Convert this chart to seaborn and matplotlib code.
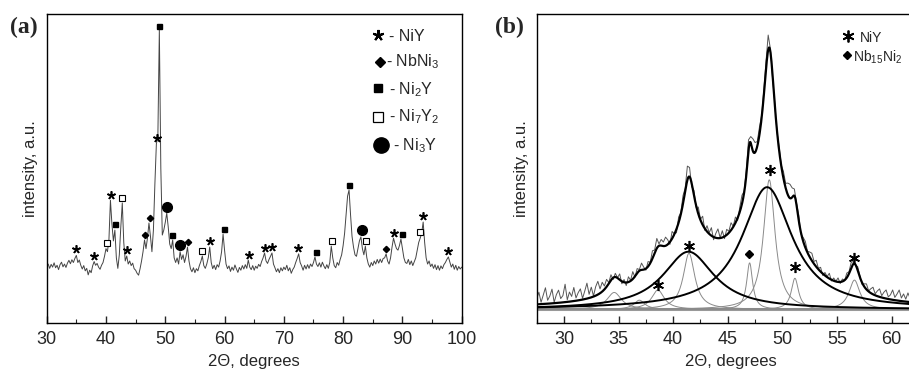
import numpy as np
import pandas as pd
import seaborn as sns
import matplotlib
matplotlib.use('Agg')
import matplotlib.pyplot as plt
from matplotlib.ticker import MultipleLocator

# ---------------- panel (a): XRD pattern, 30-100 deg, step 0.25 ----------------
two_theta_a = np.linspace(30, 100, 281)
intensity_a = [
    18.2, 19.0, 17.6, 18.9, 18.0, 19.4, 17.8, 18.6, 17.2, 18.8, 19.6, 18.1, 19.0, 17.9, 19.3, 20.2, 19.1, 20.4, 19.5, 20.8,
    21.8, 19.5, 20.3, 18.6, 17.4, 18.5, 16.8, 17.6, 15.5, 17.0, 16.2, 18.4, 19.8, 18.6, 19.2, 18.0, 17.3, 18.6, 19.5, 21.5,
    24.0, 23.0, 27.0, 39.7, 32.0, 26.5, 30.0, 21.0, 17.6, 22.0, 31.0, 38.8, 26.0, 20.0, 21.6, 19.0, 20.0, 18.5, 19.3, 17.5,
    17.0, 16.0, 15.4, 17.5, 20.0, 23.0, 26.8, 24.0, 27.5, 32.3, 28.0, 23.0, 30.0, 45.0, 58.0, 60.0, 94.8, 50.0, 28.4, 30.0,
    32.5, 35.5, 31.0, 25.5, 24.0, 26.8, 21.0, 19.5, 21.0, 19.0, 23.0, 20.5, 22.0, 19.5, 21.5, 24.5, 20.0, 17.5, 16.5, 17.8,
    16.2, 17.5, 16.8, 18.5, 19.8, 21.6, 18.5, 17.6, 19.0, 21.0, 24.5, 19.5, 17.5, 18.6, 17.2, 18.8, 18.0, 20.0, 23.0, 28.7,
    23.5, 19.0, 17.5, 18.4, 16.6, 18.0, 17.0, 18.7, 17.4, 16.3, 17.9, 17.0, 18.5, 17.4, 18.8, 17.6, 20.3, 18.0, 17.2, 18.5,
    17.0, 18.3, 17.6, 18.9, 18.2, 19.8, 21.0, 22.6, 20.0, 19.2, 20.5, 21.5, 22.6, 19.0, 17.8, 16.5, 17.5, 16.2, 17.8, 16.8,
    18.0, 17.2, 18.6, 16.8, 17.8, 16.0, 17.2, 18.0, 19.5, 20.8, 22.3, 19.5, 18.4, 17.0, 18.6, 17.4, 18.8, 17.6, 19.0, 18.2,
    19.5, 21.3, 19.0, 18.2, 19.4, 18.0, 19.6, 18.4, 17.5, 18.8, 17.6, 19.5, 24.8, 21.0, 18.5, 17.8, 19.5, 18.6, 20.5, 22.0,
    25.0, 29.0, 35.0, 41.0, 43.0, 35.0, 28.0, 24.5, 22.0, 21.5, 24.0, 26.5, 27.8, 24.0, 22.0, 24.8, 21.0, 19.0, 18.0, 19.5,
    18.5, 20.0, 19.0, 20.5, 19.3, 20.6, 19.5, 20.8, 21.0, 22.3, 20.0, 19.0, 21.0, 24.5, 27.4, 25.5, 24.0, 23.5, 25.0, 27.1,
    24.0, 21.0, 19.5, 19.2, 20.5, 18.8, 20.0, 18.5, 19.8, 21.0, 23.5, 26.0, 27.4, 29.0, 32.6, 26.0, 21.0, 19.0, 20.0, 18.2,
    19.0, 17.6, 18.8, 17.2, 18.5, 17.0, 18.4, 17.5, 18.8, 19.5, 20.5, 21.3, 19.6, 18.0, 19.0, 17.3, 18.6, 17.0, 18.2, 17.4, 18.0,
]

# phase marks on panel (a)
niy_x = [35.0, 38.0, 40.85, 43.5, 48.55, 57.5, 64.06, 66.8, 67.94, 72.43, 88.57, 93.45, 97.7]
niy_y = [23.9, 21.6, 41.4, 23.5, 59.8, 26.4, 22.0, 24.3, 24.5, 24.2, 29.0, 34.7, 23.2]
nbni3_x = [46.5, 47.36, 53.8, 87.2]
nbni3_y = [28.4, 34.0, 26.1, 24.0]
ni2y_x = [41.57, 49.0, 51.13, 59.9, 75.36, 80.93, 89.9]
ni2y_y = [32.0, 96.2, 28.4, 30.3, 22.9, 44.7, 28.8]
ni7y2_x = [40.1, 42.7, 56.24, 78.1, 83.8, 93.0]
ni7y2_y = [25.9, 40.5, 23.3, 26.6, 26.6, 29.4]
ni3y_x = [50.3, 52.5, 83.1]
ni3y_y = [37.4, 25.2, 30.0]

# ---------------- panel (b): peak fit, 27.5-62 deg ----------------
peak_center = [34.6, 36.9, 38.6, 41.45, 47.0, 48.8, 51.15, 56.6, 41.4, 48.6]
peak_height = [5.5, 3.0, 6.3, 18.2, 15.1, 42.0, 10.1, 9.5, 18.7, 39.6]
peak_hwhm = [0.8, 0.6, 0.7, 0.64, 0.33, 0.64, 0.4, 0.6, 2.85, 2.8]
peak_broad = [False] * 8 + [True, True]
baseline_b = 4.3

# measured pattern, step 0.2 deg, given as deviation from the fitted envelope
two_theta_b = np.linspace(27.5, 61.9, 173)
residual_b = [
    1.8, 3.9, 0.6, 2.9, 5.2, 1.1, 2.4, 4.6, 0.3, 2.7,
    4.1, 1.3, 2.2, 5.8, 0.7, 3.1, 1.6, 4.4, 0.9, 2.5,
    3.6, 0.4, 2.6, 5.0, 1.2, 3.3, 0.2, 2.9, 4.3, 1.4,
    3.0, 1.1, 2.4, 0.3, 1.8, -0.6, 1.2, 0.1, 1.9, -0.8,
    0.9, -1.0, 1.7, 0.2, 2.4, -0.3, 1.5, 0.4, 2.2, 0.8,
    -0.5, 1.6, 0.3, 2.5, 1.0, 3.2, 0.6, 2.0, 1.3, 2.8,
    1.5, -0.8, 2.3, 0.2, -1.2, 1.8, 0.5, 2.6, 1.0, 4.5,
    3.0, -1.0, 1.5, -0.5, 2.2, 0.3, 2.8, -0.6, 1.9, 0.4,
    2.6, -0.9, 1.4, 3.0, 0.1, 2.2, -0.7, 1.8, 0.5, 2.4,
    0.2, 1.9, -0.8, 1.5, 2.8, 0.4, 1.6, 3.5, 2.0, 4.0,
    3.2, 1.5, 2.4, 0.8, 1.6, 2.5, 4.8, 1.0, -1.2, 0.6,
    -0.4, 1.2, 0.3, 2.2, 1.5, 3.8, 4.5, 3.0, 2.2, 0.6,
    1.8, -0.5, 1.2, 2.0, 0.4, 1.6, 2.4, 0.8, 2.1, 0.3,
    1.4, -0.6, 1.0, 0.2, 1.7, -0.4, 0.9, 0.1, 1.3, -0.5,
    0.8, -0.2, 1.5, 0.6, 1.9, 0.8, -0.3, 1.2, 0.4, -0.6,
    0.9, 1.8, 0.2, 1.4, 2.3, 0.5, 1.7, 2.6, 0.6, 1.9,
    2.8, 0.7, 1.5, 3.2, 0.9, 2.1, 3.5, 1.0, 2.4, 0.8,
    2.9, 1.2, 3.3,
]

star_b_x = [38.61, 41.45, 48.84, 51.16, 56.56]
star_b_y = [12.2, 24.8, 49.5, 18.1, 21.1]
diam_b_x = [46.91]
diam_b_y = [22.1]


def lorentz(x, c, h, g):
    return h / (1 + ((x - c) / g) ** 2)


def envelope(x):
    y = np.full_like(x, baseline_b, dtype=float)
    for c, h, g in zip(peak_center, peak_height, peak_hwhm):
        y += lorentz(x, c, h, g)
    return y


# ---------------- figure ----------------
sns.set_style('ticks')
plt.rcParams['font.family'] = ['Liberation Sans', 'DejaVu Sans']
plt.rcParams.update({'mathtext.fontset': 'custom',
                     'mathtext.rm': 'Liberation Sans',
                     'mathtext.it': 'Liberation Sans:italic',
                     'mathtext.bf': 'Liberation Sans:bold'})

fig = plt.figure(figsize=(9.09, 3.72), dpi=100)
axA = fig.add_axes([0.05137, 0.13253, 0.45655, 0.82984])
axB = fig.add_axes([0.59043, 0.13253, 0.41441, 0.82984])

# (a)
sns.lineplot(x=two_theta_a, y=intensity_a, ax=axA, color='#444444', lw=0.7)
mk = dict(ls='none', color='black')
axA.plot(niy_x, niy_y, marker=(5, 2, 0), ms=6, mew=1.2, **mk)
axA.plot(nbni3_x, nbni3_y, marker='D', ms=3.2, **mk)
axA.plot(ni2y_x, ni2y_y, marker='s', ms=3.6, **mk)
axA.plot(ni7y2_x, ni7y2_y, marker='s', ms=4.4, mfc='white', mew=0.8, **mk)
axA.plot(ni3y_x, ni3y_y, marker='o', ms=7, **mk)

# legend (a), drawn by hand like the original
axA.plot([85.8], [93.2], marker=(5, 2, 0), ms=8, mew=1.5, **mk)
axA.plot([86.2], [84.6], marker='D', ms=5, **mk)
axA.plot([85.9], [75.9], marker='s', ms=6, **mk)
axA.plot([85.9], [66.7], marker='s', ms=6.5, mfc='white', mew=0.9, **mk)
axA.plot([86.4], [57.6], marker='o', ms=11, **mk)
leg_a = [('- NiY', 87.7, 91.35), ('- NbNi$_3$', 87.2, 82.9), ('- Ni$_2$Y', 87.7, 74.1),
         ('- Ni$_7$Y$_2$', 87.7, 65.4), ('- Ni$_3$Y', 88.4, 55.9)]
for t, x, y in leg_a:
    axA.text(x, y, t, fontsize=11.5, va='baseline', ha='left')

axA.set_xlim(30, 100)
axA.xaxis.set_major_locator(MultipleLocator(10))
axA.xaxis.set_minor_locator(MultipleLocator(5))

# (b)
xf = np.linspace(27.5, 62, 800)
axB.axhline(baseline_b, color='#999999', lw=2.2)
for c, h, g, broad in zip(peak_center, peak_height, peak_hwhm, peak_broad):
    if not broad:
        sns.lineplot(x=xf, y=baseline_b + lorentz(xf, c, h, g), ax=axB, color='#8a8a8a', lw=0.7)
measured_b = envelope(two_theta_b) + np.array(residual_b)
sns.lineplot(x=two_theta_b, y=measured_b, ax=axB, color='#555555', lw=0.7)
for c, h, g, broad in zip(peak_center, peak_height, peak_hwhm, peak_broad):
    if broad:
        sns.lineplot(x=xf, y=baseline_b + lorentz(xf, c, h, g), ax=axB, color='black', lw=1.4)
sns.lineplot(x=xf, y=envelope(xf), ax=axB, color='black', lw=1.6)

axB.plot(star_b_x, star_b_y, marker=(6, 2, 0), ms=8, mew=1.2, **mk)
axB.plot(diam_b_x, diam_b_y, marker='D', ms=4.5, **mk)
axB.plot([56.0], [92.9], marker=(6, 2, 0), ms=8.5, mew=1.3, **mk)
axB.plot([55.95], [86.7], marker='D', ms=4.2, **mk)
axB.text(57.08, 91.0, 'NiY', fontsize=10, va='baseline', ha='left')
axB.text(56.5, 84.5, 'Nb$_{15}$Ni$_2$', fontsize=10, va='baseline', ha='left')

axB.set_xlim(27.5, 62)
axB.xaxis.set_major_locator(MultipleLocator(5))
axB.xaxis.set_minor_locator(MultipleLocator(2.5))

for ax, xl in ((axA, 0.5), (axB, 0.515)):
    ax.set_ylim(0, 100)
    ax.set_yticks([])
    ax.tick_params(axis='x', which='major', direction='in', length=5, width=1,
                   labelsize=13, pad=6, top=False)
    ax.tick_params(axis='x', which='minor', direction='in', length=3, width=0.8, top=False)
    for s in ax.spines.values():
        s.set_linewidth(1.0)
        s.set_color('black')
    ax.set_xlabel('2Θ, degrees', fontsize=12)
    ax.set_ylabel('intensity, a.u.', fontsize=12)
    ax.xaxis.set_label_coords(xl, -0.10)
    ax.yaxis.set_label_coords(-0.021, 0.5)

fig.text(10 / 909, 1 - 33 / 372, '(a)', fontsize=17, fontweight='bold',
         family='Liberation Serif', va='baseline')
fig.text(495 / 909, 1 - 33 / 372, '(b)', fontsize=17, fontweight='bold',
         family='Liberation Serif', va='baseline')

fig.savefig('out.png', dpi=100)
